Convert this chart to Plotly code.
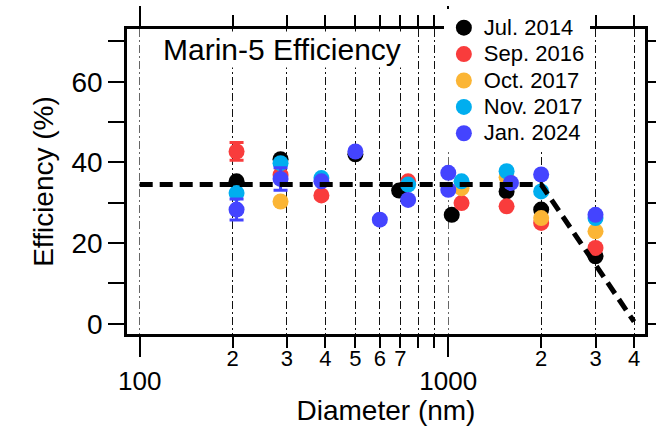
import plotly.graph_objects as go

FONT = "Liberation Sans, Arial, sans-serif"

# ---- data ----
series_names = ["Jul. 2014", "Sep. 2016", "Oct. 2017", "Nov. 2017", "Jan. 2024"]
series_colors = ["#000000", "#F93C3C", "#FBB535", "#00AEEF", "#4444FF"]

jul2014_d = [206, 286, 500, 693, 1026, 1545, 2000, 3000]
jul2014_e = [35.3, 40.8, 42.0, 33.0, 27.0, 32.8, 28.3, 16.7]
jul2014_err = [0, 0, 0, 0, 0, 0, 0, 0]

sep2016_d = [206, 286, 388, 741, 1104, 1545, 2000, 3000]
sep2016_e = [42.7, 36.9, 31.8, 35.3, 29.9, 29.1, 25.0, 18.8]
sep2016_err = [2.2, 0, 0, 0, 0, 0, 0, 0]

oct2017_d = [286, 1104, 1545, 2000, 3000]
oct2017_e = [30.3, 33.6, 36.3, 26.2, 22.9]
oct2017_err = [0, 0, 0, 0, 0]

nov2017_d = [206, 286, 388, 741, 1104, 1545, 2000, 3000]
nov2017_e = [32.4, 39.8, 36.1, 34.5, 35.3, 37.8, 32.8, 26.2]
nov2017_err = [0, 0, 0, 0, 0, 0, 0, 0]

jan2024_d = [206, 286, 388, 500, 600, 741, 1000, 1000, 1596, 2000, 3000]
jan2024_e = [28.3, 35.9, 35.3, 42.7, 25.8, 30.7, 37.4, 33.2, 34.9, 37.0, 27.0]
jan2024_err = [2.6, 2.8, 0, 0, 0, 0, 0, 0, 0, 0, 0]

fit_d = [100, 2000, 4000]
fit_e = [34.5, 34.5, 0.5]

major_x_vals = [100, 1000]
major_x_text = ["100", "1000"]
minor_x_vals = [200, 300, 400, 500, 600, 700, 800, 900, 2000, 3000, 4000]
digit_x_vals = [200, 300, 400, 500, 600, 700, 2000, 3000, 4000]
digit_x_text = ["2", "3", "4", "5", "6", "7", "2", "3", "4"]

x_range = [1.9588, 3.6375]
y_range = [-2.55, 73.07]

fig = go.Figure()

all_series = [
    (jul2014_d, jul2014_e, jul2014_err),
    (sep2016_d, sep2016_e, sep2016_err),
    (oct2017_d, oct2017_e, oct2017_err),
    (nov2017_d, nov2017_e, nov2017_err),
    (jan2024_d, jan2024_e, jan2024_err),
]
for name, color, (d, e, err) in zip(series_names, series_colors, all_series):
    fig.add_trace(go.Scatter(
        x=d, y=e, mode="markers",
        name=f"<span style='font-size:22px'>{name}</span>",
        marker=dict(color=color, size=16, line=dict(width=0)),
        error_y=dict(type="data", array=err, visible=True, color=color,
                     thickness=3, width=7),
    ))

fig.add_trace(go.Scatter(
    x=fit_d, y=fit_e, mode="lines", showlegend=False, hoverinfo="skip",
    line=dict(color="black", width=5, dash="13px,7px"),
))

grid_dash = "8px,3px,2px,3px"
grid_color = "#111111"
fig.update_layout(
    width=656, height=426,
    margin=dict(l=127.3, r=11, t=29.3, b=91.7, autoexpand=False),
    paper_bgcolor="white", plot_bgcolor="white",
    font=dict(family=FONT, color="black", size=28),
    xaxis=dict(
        type="log", range=x_range, automargin=False,
        tickmode="array", tickvals=major_x_vals, ticktext=major_x_text,
        ticks="outside", ticklen=20, tickwidth=2, tickcolor="black",
        ticklabelstandoff=2,
        tickfont=dict(size=26),
        showline=True, linewidth=2.5, linecolor="black", mirror="allticks",
        showgrid=True, gridcolor="#666666", gridwidth=1, griddash=grid_dash,
        minor=dict(tickmode="array", tickvals=minor_x_vals, ticks="outside",
                   ticklen=11, tickwidth=2, tickcolor="black",
                   showgrid=True, gridcolor=grid_color, gridwidth=1, griddash=grid_dash),
        zeroline=False,
        title=dict(text="Diameter (nm)", font=dict(size=28), standoff=7),
    ),
    xaxis2=dict(
        type="log", range=x_range, overlaying="x", anchor="y", side="bottom",
        automargin=False,
        tickmode="array", tickvals=digit_x_vals, ticktext=digit_x_text,
        ticks="", showline=False, showgrid=False, zeroline=False,
        tickfont=dict(size=22), ticklabelstandoff=9,
    ),
    yaxis=dict(
        range=y_range, tickmode="linear", tick0=0, dtick=20, automargin=False,
        ticks="outside", ticklen=16, tickwidth=2, tickcolor="black",
        tickfont=dict(size=28), ticklabelstandoff=0,
        showline=True, linewidth=2.5, linecolor="black", mirror="allticks",
        showgrid=False, zeroline=False,
        minor=dict(dtick=10, ticks="outside", ticklen=9, tickwidth=2, tickcolor="black"),
        title=dict(text="Efficiency (%)", font=dict(size=28), standoff=10),
    ),
    legend=dict(
        x=0.6117, y=1.064, xanchor="left", yanchor="top",
        bgcolor="white", borderwidth=0, font=dict(size=18),
        tracegroupgap=0, itemsizing="trace",
    ),
    showlegend=True,
    annotations=[dict(
        text="Marin-5 Efficiency", xref="paper", yref="paper",
        x=0.299, y=0.932, xanchor="center", yanchor="middle",
        showarrow=False, font=dict(size=30), bgcolor="white", borderpad=1,
    )],
)

# invisible trace so the digit-label axis is drawn
fig.add_trace(go.Scatter(x=[1000], y=[None], xaxis="x2", yaxis="y",
                         showlegend=False, hoverinfo="skip", mode="markers"))

fig.write_html("out.html")
